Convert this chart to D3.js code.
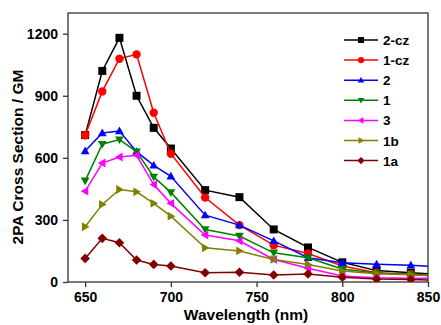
<!DOCTYPE html>
<html>
<head>
<meta charset="utf-8">
<script src="https://cdn.jsdelivr.net/npm/d3@7"></script>
<style>
  body { margin: 0; background: #fff; }
  text { font-family: Arial, "Liberation Sans", sans-serif; font-weight: bold; }
</style>
</head>
<body>
<div id="chart"></div>
<script>
// wavelengths (nm); the last point lies past the axis end and is clipped
const wavelengths = [650, 660, 670, 680, 690, 700, 720, 740, 760, 780, 800, 820, 840, 860];
const s2cz = [710, 1020, 1180, 900, 745, 645, 444, 410, 254, 167, 95, 55, 45, 35];
const s1cz = [709, 921, 1079, 1100, 818, 620, 408, 275, 178, 138, 77, 45, 38, 30];
const s2   = [633, 720, 730, 630, 564, 511, 323, 275, 199, 117, 93, 86, 81, 71];
const s1   = [489, 666, 688, 630, 508, 433, 254, 222, 141, 117, 63, 42, 36, 26];
const s3   = [439, 575, 604, 612, 471, 380, 227, 199, 109, 66, 29, 21, 18, 18];
const s1b  = [267, 375, 447, 436, 380, 318, 165, 150, 109, 85, 53, 40, 35, 28];
const s1a  = [114, 211, 190, 106, 85, 77, 45, 47, 34, 39, 23, 14, 12, 8];

const seriesNames = ['2-cz', '1-cz', '2', '1', '3', '1b', '1a'];
const seriesValues = [s2cz, s1cz, s2, s1, s3, s1b, s1a];
const xTicks = [650, 700, 750, 800, 850];
const yTicks = [0, 300, 600, 900, 1200];

const colors = ['#000000', '#ff0000', '#0000ff', '#008000', '#ff00ff', '#808000', '#800000'];
const shapes = ['square', 'circle', 'up', 'down', 'left', 'right', 'diamond'];

const width = 441, height = 325;
const margin = { top: 13, right: 13, bottom: 43, left: 68 };
const innerW = width - margin.left - margin.right;
const innerH = height - margin.top - margin.bottom;

const svg = d3.select('#chart').append('svg')
  .attr('width', width)
  .attr('height', height);

const x = d3.scaleLinear().domain([640, 850]).range([0, innerW]);
const y = d3.scaleLinear().domain([0, 1300]).range([innerH, 0]);

const g = svg.append('g').attr('transform', `translate(${margin.left},${margin.top})`);

svg.append('defs').append('clipPath').attr('id', 'plot-clip')
  .append('rect').attr('width', innerW).attr('height', innerH);

// marker path around 0,0
function markerPath(shape, s) {
  const h = s / 2;
  switch (shape) {
    case 'square': return `M${-h},${-h}H${h}V${h}H${-h}Z`;
    case 'circle': return d3.symbol(d3.symbolCircle, Math.PI * h * h * 1.1)();
    case 'up': return `M0,${-h * 1.1}L${h * 1.1},${h * 0.8}L${-h * 1.1},${h * 0.8}Z`;
    case 'down': return `M0,${h * 1.1}L${h * 1.1},${-h * 0.8}L${-h * 1.1},${-h * 0.8}Z`;
    case 'left': return `M${-h * 1.1},0L${h * 0.8},${-h * 1.1}L${h * 0.8},${h * 1.1}Z`;
    case 'right': return `M${h * 1.1},0L${-h * 0.8},${-h * 1.1}L${-h * 0.8},${h * 1.1}Z`;
    case 'diamond': return `M0,${-h * 1.2}L${h * 1.2},0L0,${h * 1.2}L${-h * 1.2},0Z`;
  }
}

// axes
const xAxis = g.append('g')
  .attr('transform', `translate(0,${innerH})`)
  .call(d3.axisBottom(x).tickValues(xTicks).tickFormat(d3.format('d'))
    .tickSize(5).tickPadding(5).tickSizeOuter(0));
const yAxis = g.append('g')
  .call(d3.axisLeft(y).tickValues(yTicks).tickFormat(d3.format('d'))
    .tickSize(5).tickPadding(5).tickSizeOuter(0));

[xAxis, yAxis].forEach(a => {
  a.select('.domain').remove();
  a.selectAll('line').attr('stroke', '#333').attr('stroke-width', 1.3);
  a.selectAll('text').attr('fill', '#000').style('font-size', '14px');
});

// frame
g.append('rect')
  .attr('width', innerW).attr('height', innerH)
  .attr('fill', 'none').attr('stroke', '#333').attr('stroke-width', 1.3);

// series
const plot = g.append('g').attr('clip-path', 'url(#plot-clip)');
const line = d3.line().x(d => x(d[0])).y(d => y(d[1]));

seriesValues.forEach((vals, i) => {
  const pts = wavelengths.map((w, j) => [w, vals[j]]);
  plot.append('path')
    .datum(pts)
    .attr('d', line)
    .attr('fill', 'none')
    .attr('stroke', colors[i])
    .attr('stroke-width', 1.5);
  plot.selectAll(null)
    .data(pts.filter(p => p[0] <= 850))
    .enter().append('path')
    .attr('transform', d => `translate(${x(d[0])},${y(d[1])})`)
    .attr('d', markerPath(shapes[i], 8))
    .attr('fill', colors[i]);
});

// legend
const legend = g.append('g').attr('transform', `translate(${344 - margin.left},${40 - margin.top})`);
seriesNames.forEach((name, i) => {
  const row = legend.append('g').attr('transform', `translate(0,${i * 20.1})`);
  row.append('line').attr('x1', 0).attr('x2', 34).attr('y1', 0).attr('y2', 0)
    .attr('stroke', colors[i]).attr('stroke-width', 1.5);
  row.append('path').attr('transform', 'translate(17,0)')
    .attr('d', markerPath(shapes[i], 6)).attr('fill', colors[i]);
  row.append('text').attr('x', 39).attr('y', 5)
    .style('font-size', '13.5px').attr('fill', '#000').text(name);
});

// axis titles
svg.append('text')
  .attr('x', 246).attr('y', 320)
  .attr('text-anchor', 'middle')
  .style('font-size', '15.5px')
  .text('Wavelength (nm)');

svg.append('text')
  .attr('transform', 'translate(23,157) rotate(-90)')
  .attr('text-anchor', 'middle')
  .style('font-size', '15.5px')
  .text('2PA Cross Section / GM');
</script>
</body>
</html>
